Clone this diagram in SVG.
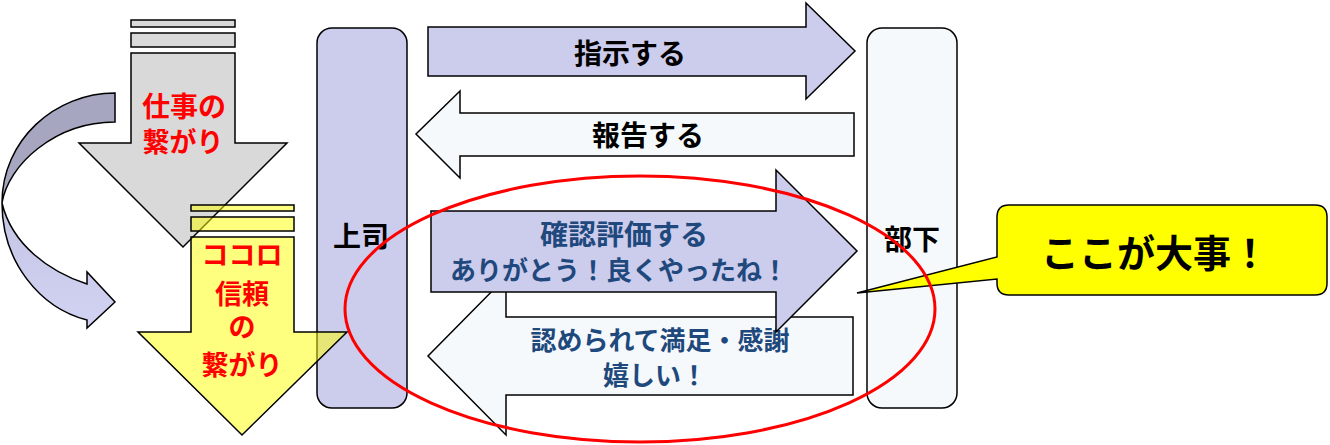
<svg xmlns="http://www.w3.org/2000/svg" width="1330" height="445" viewBox="0 0 1330 445">
<style>
.ln{stroke:#000;stroke-width:1.5;stroke-linejoin:miter}
.gray{fill:#d9d9d9}
.yel{fill:#ffff00;fill-opacity:0.5}
.pur{fill:#ccccec}
.pale{fill:#f5f9fb}
text{font-family:"Noto Sans CJK JP","Noto Sans CJK SC",sans-serif;font-weight:700;text-anchor:middle}
.red{fill:#ff0000;font-size:27px}
.blk{fill:#000;font-size:28px}
.blu{fill:#1f497d;font-size:26px}
</style>
<defs>
<linearGradient id="cg" x1="0" y1="0" x2="0" y2="1">
<stop offset="0" stop-color="#c4c4e4"/>
<stop offset="1" stop-color="#d2d2f2"/>
</linearGradient>
</defs>
<g id="curved-arrow">
<path class="ln" fill="#a6a6c0" d="M115,93 C55,93 2,140 2,203 C8,165 55,122 115,122 Z"/>
<path class="ln" fill="url(#cg)" d="M2,203 C2,262 40,308 87,320 L87,328 L115,302 L87,272 L87,284 C50,272 12,245 2,203 Z"/>
</g>
<g id="work-arrow">
<rect class="ln gray" x="131" y="20" width="104" height="7"/>
<rect class="ln gray" x="131" y="33" width="104" height="14"/>
<polygon class="ln gray" points="131,53 235,53 235,143 287,143 183,247 79,143 131,143"/>
<text class="red" x="184" y="117" style="font-size:28px">仕事の</text>
<text class="red" x="183" y="152">繋がり</text>
</g>
<g id="boss">
<rect class="ln pur" x="317" y="28" width="90" height="380" rx="15"/>
<text class="blk" x="361" y="247">上司</text>
</g>
<g id="subordinate">
<rect class="ln pale" x="867" y="28" width="90" height="380" rx="15"/>
<text class="blk" x="912" y="250">部下</text>
</g>
<g id="heart-arrow">
<rect class="ln yel" x="191" y="205" width="103" height="6"/>
<rect class="ln yel" x="191" y="217" width="103" height="14"/>
<polygon class="ln yel" points="191,237 294,237 294,332 347,332 242,435 138,332 191,332"/>
<text class="red" x="242" y="265">ココロ</text>
<text class="red" x="242" y="304">信頼</text>
<text class="red" x="242" y="337">の</text>
<text class="red" x="242" y="375">繋がり</text>
</g>
<g id="connectors">
<g id="instruct">
<polygon class="ln pur" points="428,27 806,27 806,3 855,51 806,99 806,76 428,76"/>
<text class="blk" x="630" y="64">指示する</text>
</g>
<g id="report">
<polygon class="ln pale" points="854,113 460,113 460,91 416,134 460,178 460,156 854,156"/>
<text class="blk" x="648" y="146">報告する</text>
</g>
<g id="thanks">
<polygon class="ln pale" points="853,317 506,317 506,277 428,356 506,435 506,395 853,395"/>
<text class="blu" x="660" y="350">認められて満足・感謝</text>
<text class="blu" x="655" y="385">嬉しい！</text>
</g>
<g id="evaluate">
<polygon class="ln pur" points="431,211 776,211 776,170 857,251 776,332 776,292 431,292"/>
<text class="blu" x="624" y="245" style="font-size:28px">確認評価する</text>
<text class="blu" x="619" y="280">ありがとう！良くやったね！</text>
</g>
</g>
<g id="callout">
<path class="ln" fill="#ffff00" d="M1009,205 H1315 Q1327,205 1327,217 V283 Q1327,295 1315,295 H1009 Q997,295 997,283 V279 L857,293 L997,257 V217 Q997,205 1009,205 Z"/>
<text class="blk" style="font-size:38px" x="1155" y="267">ここが大事！</text>
</g>
<g id="highlight">
<ellipse cx="640" cy="309" rx="295" ry="133" fill="none" stroke="#ff0000" stroke-width="3"/>
</g>
</svg>
